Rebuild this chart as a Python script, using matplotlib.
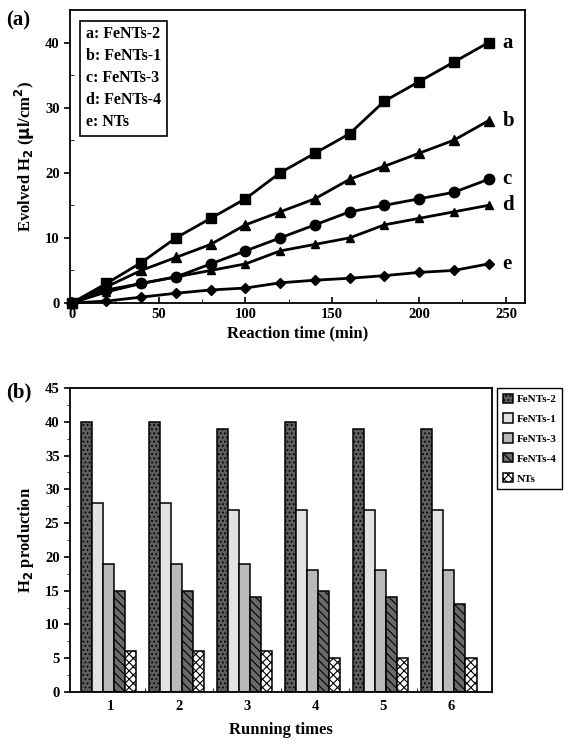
import matplotlib.pyplot as plt
import numpy as np

plt.rcParams['font.family'] = ['Liberation Serif', 'DejaVu Serif']
plt.rcParams['font.weight'] = 'bold'
plt.rcParams['hatch.linewidth'] = 0.8

# panel (a) data
t = [0, 20, 40, 60, 80, 100, 120, 140, 160, 180, 200, 220, 240]
h2_a = [0, 3, 6.2, 10, 13, 16, 20, 23, 26, 31, 34, 37, 40]
h2_b = [0, 2.5, 5, 7, 9, 12, 14, 16, 19, 21, 23, 25, 28]
h2_c = [0, 2, 3, 4, 6, 8, 10, 12, 14, 15, 16, 17, 19]
h2_d = [0, 1.7, 3, 4, 5, 6, 8, 9, 10, 12, 13, 14, 15]
h2_e = [0, 0.3, 0.9, 1.5, 2, 2.3, 3.1, 3.5, 3.8, 4.2, 4.7, 5, 6]
curve_tags = ['a', 'b', 'c', 'd', 'e']
legend_a = ['a: FeNTs-2', 'b: FeNTs-1', 'c: FeNTs-3', 'd: FeNTs-4', 'e: NTs']

# panel (b) data
runs = [1, 2, 3, 4, 5, 6]
samples = ['FeNTs-2', 'FeNTs-1', 'FeNTs-3', 'FeNTs-4', 'NTs']
prod = {
    'FeNTs-2': [40, 40, 39, 40, 39, 39],
    'FeNTs-1': [28, 28, 27, 27, 27, 27],
    'FeNTs-3': [19, 19, 19, 18, 18, 18],
    'FeNTs-4': [15, 15, 14, 15, 14, 13],
    'NTs': [6, 6, 6, 5, 5, 5],
}

W, H = 569, 744
fig = plt.figure(figsize=(W / 100, H / 100), dpi=100)

# ---------- (a) ----------
ax = fig.add_axes([70 / W, 1 - 303 / H, 455 / W, 293 / H])
series = [h2_a, h2_b, h2_c, h2_d, h2_e]
markers = ['s', '^', 'o', '^', 'D']
msizes = [7.5, 7.5, 7.5, 6, 5.5]
for ys, m, ms, tag in zip(series, markers, msizes, curve_tags):
    ax.plot(t, ys, color='black', lw=2, marker=m, ms=ms, clip_on=False)
    ax.text(t[-1] + 8, ys[-1], tag, fontsize=15, fontweight='bold', va='center')

ax.set_xlim(-1, 261)
ax.set_ylim(0, 45)
ax.set_xticks([0, 50, 100, 150, 200, 250])
ax.set_xticks(np.arange(25, 260, 50), minor=True)
ax.set_yticks([0, 10, 20, 30, 40])
ax.set_yticks([5, 15, 25, 35], minor=True)
ax.tick_params(axis='both', labelsize=10.5, width=1.2)
ax.tick_params(axis='x', direction='in', length=4)
ax.tick_params(axis='x', which='minor', direction='in', length=3)
ax.tick_params(axis='y', direction='out', length=4)
ax.tick_params(axis='y', which='minor', direction='in', length=3)
for s in ax.spines.values():
    s.set_linewidth(1.3)
ax.set_xlabel('Reaction time (min)', fontsize=12, fontweight='bold', labelpad=3)
ax.set_ylabel(r'Evolved H$_\mathbf{2}$ ($\mathbf{\mu}$l/cm$^\mathbf{2}$)', fontsize=12,
              fontweight='bold', labelpad=6)
ax.text(0.035, 0.945, '\n'.join(legend_a), transform=ax.transAxes, fontsize=11.5,
        fontweight='bold', va='top', ha='left', linespacing=1.5,
        bbox=dict(boxstyle='square,pad=0.35', fc='white', ec='black', lw=1.2))
fig.text(6 / W, 1 - 20 / H, '(a)', fontsize=15, fontweight='bold', va='center')

# ---------- (b) ----------
bx = fig.add_axes([70 / W, 1 - 692 / H, 422 / W, 304 / H])
styles = {
    'FeNTs-2': dict(color='#5e5e5e', hatch='....'),
    'FeNTs-1': dict(color='#e2e2e2', hatch=None),
    'FeNTs-3': dict(color='#b9b9b9', hatch=None),
    'FeNTs-4': dict(color='#6a6a6a', hatch='\\\\\\\\'),
    'NTs': dict(color='white', hatch='xxxx'),
}
bw = 0.162
x = np.array(runs, dtype=float)
for i, name in enumerate(samples):
    st = styles[name]
    bx.bar(x + (i - 2.2) * bw, prod[name], width=bw, color=st['color'],
           hatch=st['hatch'], edgecolor='black', lw=1.1, label=name)

bx.set_xlim(0.4, 6.6)
bx.set_ylim(0, 45)
bx.set_xticks(runs)
bx.set_xticks(np.arange(1.5, 6.5, 1), minor=True)
bx.set_yticks(np.arange(0, 46, 5))
bx.set_yticks(np.arange(2.5, 45, 5), minor=True)
bx.tick_params(axis='both', labelsize=10.5, width=1.2)
bx.tick_params(axis='x', which='major', length=0, pad=6)
bx.tick_params(axis='x', which='minor', direction='in', length=3)
bx.tick_params(axis='y', which='major', direction='out', length=4)
bx.tick_params(axis='y', which='minor', direction='out', length=2.5)
for s in bx.spines.values():
    s.set_linewidth(1.3)
bx.set_xlabel('Running times', fontsize=12, fontweight='bold', labelpad=6)
bx.set_ylabel(r'H$_\mathbf{2}$ production', fontsize=12, fontweight='bold', labelpad=6)
fig.text(6 / W, 1 - 392 / H, '(b)', fontsize=15, fontweight='bold', va='center')

leg = bx.legend(loc='upper left', bbox_to_anchor=(497 / W, 1 - 388 / H),
                bbox_transform=fig.transFigure, fontsize=8, handlelength=0.9,
                handleheight=0.9, handletextpad=0.4, labelspacing=0.85,
                borderpad=0.5, borderaxespad=0, fancybox=False, framealpha=1,
                edgecolor='black')
leg.get_frame().set_linewidth(1.0)

fig.savefig('out.png', dpi=100)
